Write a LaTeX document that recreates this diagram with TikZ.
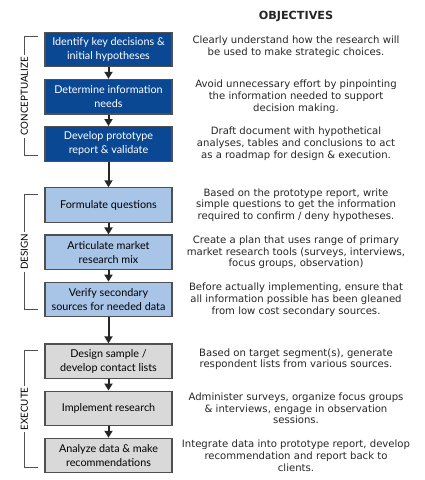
\documentclass[tikz,border=0pt]{standalone}
\usepackage{fontspec}
\setmainfont{Lato}
\newfontfamily\objfont{DejaVu Sans}
\usetikzlibrary{positioning,arrows.meta}
\definecolor{stageblue}{RGB}{10,72,148}
\definecolor{stagelight}{RGB}{168,197,232}
\definecolor{stagegray}{RGB}{217,217,217}
\definecolor{edgegray}{RGB}{80,80,80}
\begin{document}
\begin{tikzpicture}[x=1pt,y=-1pt,
  stage/.style={draw=edgegray,line width=1.2pt,minimum width=127pt,minimum height=34.5pt,
    inner sep=1pt,align=center,font=\fontsize{10.8}{14}\selectfont},
  concept/.style={stage,fill=stageblue,text=white},
  design/.style={stage,fill=stagelight},
  execute/.style={stage,fill=stagegray},
  obj/.style={align=center,inner sep=0pt,text=black!85,font=\objfont\fontsize{10.1}{11.8}\selectfont},
  flow/.style={line width=2pt,black!85,-{Triangle[width=8pt,length=7pt]}},
  phase/.style={draw=edgegray,line width=0.9pt},
  phaselabel/.style={fill=white,rotate=90,inner sep=2pt,font=\fontsize{9.8}{12}\selectfont},
  node distance=11.5pt]
\useasboundingbox (0,0) rectangle (424,480);
%stages
\node[concept] (identify) at (108.5,49.5) {Identify key decisions \&\\initial hypotheses};
\node[concept,below=of identify] (needs) {Determine information\\needs};
\node[concept,below=of needs] (prototype) {Develop prototype\\report \& validate};
\node[design,below=25.5pt of prototype] (questions) {Formulate questions};
\node[design,below=of questions] (mix) {Articulate market\\research mix};
\node[design,below=of mix] (secondary) {Verify secondary\\sources for needed data};
\node[execute,below=26pt of secondary] (sample) {Design sample /\\develop contact lists};
\node[execute,below=of sample] (implement) {Implement research};
\node[execute,below=of implement] (analyze) {Analyze data \& make\\recommendations};
\foreach \a/\b in {identify/needs,needs/prototype,prototype/questions,questions/mix,
  mix/secondary,secondary/sample,sample/implement,implement/analyze}
  \draw[flow] (\a.south) -- (\b.north);
%phases
\draw[phase] ([xshift=-6pt,yshift=-5pt]identify.north west) -- ++(-14,0)
  -- ([xshift=-20pt,yshift=6pt]prototype.south west) node[midway,phaselabel]{CONCEPTUALIZE}
  -- ++(14,0);
\draw[phase] ([xshift=-6pt,yshift=-7pt]questions.north west) -- ++(-14,0)
  -- ([xshift=-20pt,yshift=8pt]secondary.south west) node[midway,phaselabel]{DESIGN}
  -- ++(14,0);
\draw[phase] ([xshift=-6pt,yshift=-7pt]sample.north west) -- ++(-14,0)
  -- ([xshift=-20pt,yshift=6pt]analyze.south west) node[midway,phaselabel]{EXECUTE}
  -- ++(14,0);
%objectives
\coordinate (objcol) at (296,0);
\node[obj,font=\objfont\bfseries\fontsize{11.2}{13}\selectfont] (title) at (296,16) {OBJECTIVES};
\node[obj,yshift=3pt] (o1) at (objcol |- identify) {Clearly understand how the research will\\be used to make strategic choices.};
\node[obj] (o2) at (objcol |- needs) {Avoid unnecessary effort by pinpointing\\the information needed to support\\decision making.};
\node[obj] (o3) at (objcol |- prototype) {Draft document with hypothetical\\analyses, tables and conclusions to act\\as a roadmap for design \& execution.};
\node[obj] (o4) at (objcol |- questions) {Based on the prototype report, write\\simple questions to get the information\\required to confirm / deny hypotheses.};
\node[obj] (o5) at (objcol |- mix) {Create a plan that uses range of primary\\market research tools (surveys, interviews,\\focus groups, observation)};
\node[obj] (o6) at (objcol |- secondary) {Before actually implementing, ensure that\\all information possible has been gleaned\\from low cost secondary sources.};
\node[obj,yshift=2pt] (o7) at (objcol |- sample) {Based on target segment(s), generate\\respondent lists from various sources.};
\node[obj] (o8) at (objcol |- implement) {Administer surveys, organize focus groups\\\& interviews, engage in observation\\sessions.};
\node[obj] (o9) at (objcol |- analyze) {Integrate data into prototype report, develop\\recommendation and report back to\\clients.};
\end{tikzpicture}
\end{document}
